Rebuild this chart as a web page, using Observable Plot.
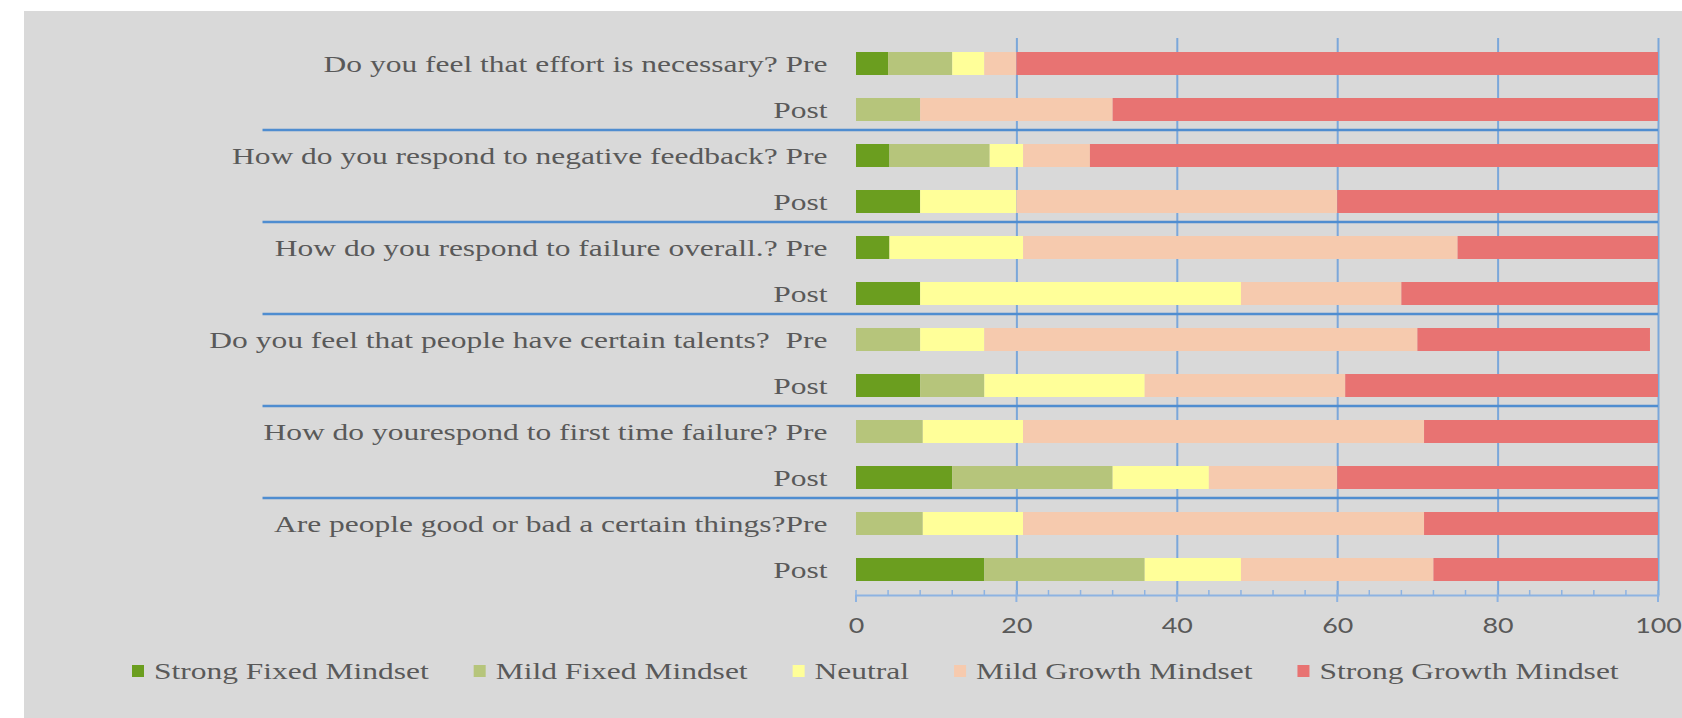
<!DOCTYPE html>
<html><head><meta charset="utf-8">
<script src="https://cdn.jsdelivr.net/npm/d3@7"></script>
<script src="https://cdn.jsdelivr.net/npm/@observablehq/plot@0.6"></script>
<style>
html,body{margin:0;padding:0;background:#fff;}
#panel{position:absolute;left:24px;top:11px;width:1658px;height:707px;background:#d9d9d9;overflow:hidden;}
svg text{white-space:pre;}
</style></head><body><div id="panel"></div>
<script>
// ---- data ----
const rowLabels = [
  "Do you feel that effort is necessary? Pre", "Post",
  "How do you respond to negative feedback? Pre", "Post",
  "How do you respond to failure overall.? Pre", "Post",
  "Do you feel that people have certain talents?  Pre", "Post",
  "How do yourespond to first time failure? Pre", "Post",
  "Are people good or bad a certain things?Pre", "Post"
];
const categories = ["Strong Fixed Mindset", "Mild Fixed Mindset", "Neutral", "Mild Growth Mindset", "Strong Growth Mindset"];
const strongFixed  = [4, 0, 4.17, 8, 4.17, 8, 0, 8, 0, 12, 0, 16];
const mildFixed    = [8, 8, 12.5, 0, 0, 0, 8, 8, 8.33, 20, 8.33, 20];
const neutral      = [4, 0, 4.17, 12, 16.67, 40, 8, 20, 12.5, 12, 12.5, 12];
const mildGrowth   = [4, 24, 8.33, 40, 54.17, 20, 54, 25, 50, 16, 50, 24];
const strongGrowth = [80, 68, 70.83, 40, 25, 32, 29, 39, 29.17, 40, 29.17, 28];
const xTicks = [0, 20, 40, 60, 80, 100];
const gridTicks = [20, 40, 60, 80, 100];
const minorTicks = d3.range(0, 101, 4);
const separatorAfterRows = [1, 3, 5, 7, 9];

// ---- style ----
const colors = ["#6B9E1F", "#B6C57B", "#FFFF99", "#F6CAAE", "#E87372"];
const textColor = "#595959";
const serif = "'Liberation Serif', 'Times New Roman', serif";
const sans = "Lato, 'Open Sans', sans-serif";
const serifStretch = 1.34;
const sansStretch = 1.22;
const sepStart = -74;

const series = [strongFixed, mildFixed, neutral, mildGrowth, strongGrowth];
const rows = rowLabels.map((_, i) => i);
const data = [];
rows.forEach(r => categories.forEach((c, j) => data.push({row: r, cat: c, v: series[j][r]})));

function tickDecor(index, scales, values, dim) {
  const g = d3.create("svg:g");
  const y0 = dim.height - dim.marginBottom;
  for (const t of minorTicks) {
    g.append("line").attr("x1", scales.x(t)).attr("x2", scales.x(t))
      .attr("y1", y0 - 5).attr("y2", y0).attr("stroke", "#8DB3E2").attr("stroke-width", 1.5);
  }
  for (const t of xTicks) {
    g.append("line").attr("x1", scales.x(t)).attr("x2", scales.x(t))
      .attr("y1", y0).attr("y2", y0 + 7).attr("stroke", "#8DB3E2").attr("stroke-width", 2);
  }
  return g.node();
}

const chart = Plot.plot({
  width: 1658, height: 640,
  marginLeft: 832, marginRight: 24, marginTop: 27, marginBottom: 56,
  style: {background: "transparent", overflow: "visible"},
  x: {domain: [0, 100], axis: null},
  y: {domain: rows, paddingInner: 0.5, paddingOuter: 0.233, axis: null},
  color: {domain: categories, range: colors},
  marks: [
    Plot.gridX(gridTicks, {stroke: "#7BA7DA", strokeOpacity: 1, strokeWidth: 2}),
    Plot.barX(data, {x: "v", y: "row", fill: "cat"}),
    Plot.ruleY(separatorAfterRows, {y: d => d, dy: 20, x1: sepStart, x2: 100, stroke: "#4F8DD0", strokeWidth: 2.5}),
    Plot.frame({anchor: "bottom", stroke: "#8DB3E2", strokeWidth: 2}),
    tickDecor,
    Plot.axisY({tickSize: 0, tickPadding: 29, tickFormat: i => rowLabels[i], fontFamily: serif, fontSize: 23.5, fill: textColor, label: null}),
    Plot.axisX(xTicks, {tickSize: 0, tickPadding: 22, fontFamily: sans, fontSize: 22, fill: textColor, label: null})
  ]
});
chart.style.position = "absolute";
chart.style.left = "0px";
chart.style.top = "0px";
const panel = document.getElementById("panel");
panel.appendChild(chart);

function stretch(nodes, f) {
  nodes.forEach(n => {
    const L = n.getComputedTextLength();
    n.setAttribute("textLength", L * f);
    n.setAttribute("lengthAdjust", "spacingAndGlyphs");
  });
}
stretch(chart.querySelectorAll('g[aria-label="y-axis tick label"] text'), serifStretch);
stretch(chart.querySelectorAll('g[aria-label="x-axis tick label"] text'), sansStretch);

// legend
const leg = d3.select(panel).append("svg")
  .attr("width", 1658).attr("height", 67)
  .style("position", "absolute").style("left", "0px").style("top", "640px");
let lx = 108;
categories.forEach((c, i) => {
  leg.append("rect").attr("x", lx).attr("y", 14).attr("width", 12).attr("height", 12).attr("fill", colors[i]);
  const t = leg.append("text").attr("x", lx + 22).attr("y", 28).text(c)
    .attr("font-family", serif).attr("font-size", 23.5).attr("fill", textColor);
  const L = t.node().getComputedTextLength() * serifStretch;
  t.attr("textLength", L).attr("lengthAdjust", "spacingAndGlyphs");
  lx += 22 + L + 45;
});
</script>
</body></html>
